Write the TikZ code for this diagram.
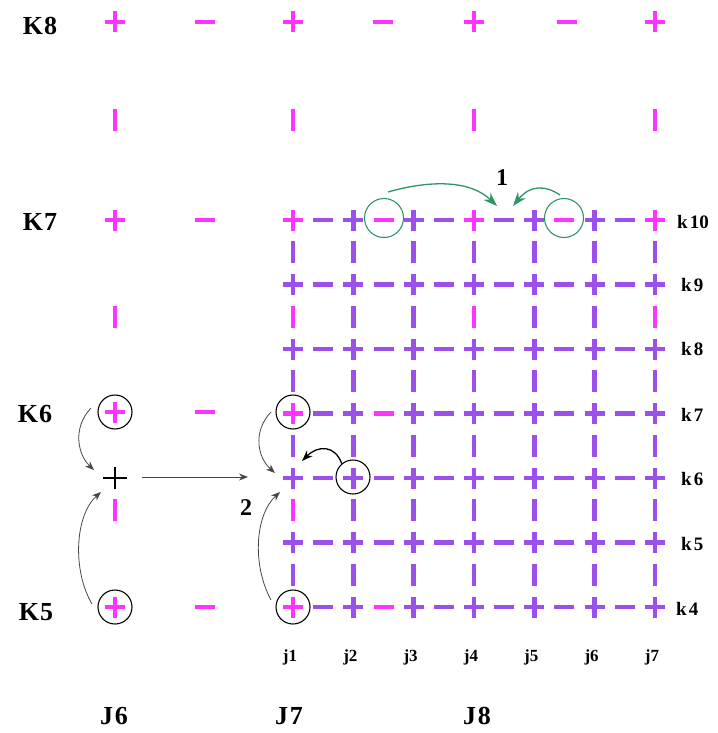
\documentclass[tikz,border=0pt]{standalone}
\usepackage{fontspec}
\setmainfont{Liberation Serif}
\usetikzlibrary{arrows.meta}
\definecolor{mag}{RGB}{255,51,255}
\definecolor{pur}{RGB}{155,80,235}
\definecolor{grn}{RGB}{46,150,100}
\definecolor{arr}{RGB}{70,70,70}
\tikzset{
  pluss/.pic={\draw (-10,0)--(10,0) (0,-10.5)--(0,10.5);},
  minuss/.pic={\draw (-10,0)--(10,0);},
  vbar/.pic={\draw (0,-11)--(0,11);},
  magsym/.style={color=mag, line width=4.8pt},
  pursym/.style={color=pur, line width=4.8pt},
  blkcirc/.style={circle, draw=black, line width=1.1pt, minimum size=34pt, inner sep=0pt},
  grncirc/.style={circle, draw=grn, line width=1.1pt, minimum size=39pt, inner sep=0pt},
  thinarr/.style={draw=arr, line width=0.8pt, -{Stealth[length=9pt,width=7pt]}},
  thickarr/.style={draw=black, line width=1.3pt, -{Stealth[length=11pt,width=8pt]}},
  grnarr/.style={draw=grn, line width=1.3pt, -{Stealth[length=14pt,width=10pt]}},
  bigK/.style={font=\fontsize{26}{28}\selectfont\bfseries, inner sep=0pt},
  smallk/.style={font=\fontsize{19}{21}\selectfont\bfseries, inner sep=0pt, anchor=west},
  smallj/.style={font=\fontsize{17}{20}\selectfont\bfseries, inner sep=0pt},
  numlab/.style={font=\fontsize{24}{26}\selectfont\bfseries, inner sep=0pt}
}
\begin{document}
\begin{tikzpicture}[x=1pt,y=-1pt]
\useasboundingbox (0,0) rectangle (717,733);
\def\xa{293}\def\dx{60.33}\def\ya{220}\def\dy{64.5}
% coarse grid (magenta) outside the fine grid
\foreach \x in {115,293,474,655} {\pic[magsym] at (\x,22) {pluss}; \pic[magsym] at (\x,120) {vbar};}
\foreach \x in {205,383,567} {\pic[magsym] at (\x,22) {minuss};}
\foreach \y in {220,412,607} {\pic[magsym] at (115,\y) {pluss}; \pic[magsym] at (205,\y) {minuss};}
\foreach \y in {317,510} {\pic[magsym] at (115,\y) {vbar};}
% fine grid (purple)
\foreach \i in {0,...,6} {
  \foreach \k in {0,...,6} {\pic[pursym] at ({\xa+\i*\dx},{\ya+\k*\dy}) {pluss};}
  \foreach \k in {0,...,5} {\pic[pursym] at ({\xa+\i*\dx},{\ya+(\k+0.5)*\dy}) {vbar};}
}
\foreach \i in {0,...,5} {
  \foreach \k in {0,...,6} {\pic[pursym] at ({\xa+(\i+0.5)*\dx},{\ya+\k*\dy}) {minuss};}
}
% magenta elements inside the fine grid
\foreach \i/\k in {0/0,3/0,6/0,0/3,0/6} {\pic[magsym] at ({\xa+\i*\dx},{\ya+\k*\dy}) {pluss};}
\foreach \i/\k in {1/0,4/0,1/3,1/6} {\pic[magsym] at ({\xa+(\i+0.5)*\dx},{\ya+\k*\dy}) {minuss};}
\foreach \i/\k in {0/1,3/1,6/1,0/4} {\pic[magsym] at ({\xa+\i*\dx},{\ya+(\k+0.5)*\dy}) {vbar};}
% black plus
\coordinate (bp) at (115,478);
\draw[black, line width=2.8pt] (103,478)--(127,478) (115,467)--(115,489);
% circles
\node[blkcirc] (cK6) at (115,412) {};
\node[blkcirc] (cK5) at (115,607) {};
\node[blkcirc] (cJ7K6) at (293,412) {};
\node[blkcirc] (cJ7K5) at (293,607) {};
\node[blkcirc] (cj2) at (353,477) {};
\node[grncirc] (g1) at (384,218) {};
\node[grncirc] (g2) at (564,218) {};
% arrow end coordinates
\coordinate (s1) at (91,408);
\coordinate (e1) at (94,470);
\coordinate (s2) at (92,604);
\coordinate (e2) at (101,492);
\coordinate (s3) at (142,477);
\coordinate (e3) at (248,477);
\coordinate (s4) at (271,412);
\coordinate (e4) at (275,473);
\coordinate (s5) at (271,600);
\coordinate (e5) at (280,492);
\coordinate (e6) at (302,461);
\coordinate (s7) at (388,192);
\coordinate (e7) at (497,206);
\coordinate (s8) at (560,195);
\coordinate (e8) at (513,206);
\draw[thinarr] (s1) .. controls (72,428) and (78,455) .. (e1);
\draw[thinarr] (s2) .. controls (72,570) and (75,515) .. (e2);
\draw[thinarr] (s3) -- (e3);
\draw[thinarr] (s4) .. controls (252,432) and (258,458) .. (e4);
\draw[thinarr] (s5) .. controls (252,565) and (255,515) .. (e5);
\draw[thickarr] (cj2.130) .. controls (335,445) and (318,445) .. (e6);
\draw[grnarr] (s7) .. controls (430,180) and (470,180) .. (e7);
\draw[grnarr] (s8) .. controls (545,185) and (530,185) .. (e8);
% labels
\node[numlab] (n1) at (502,178) {1};
\node[numlab] (n2) at (246,508) {2};
\node[bigK] (K8) at (40,26) {K\kern1pt 8};
\node[bigK] (K7) at (40,222) {K\kern1pt 7};
\node[bigK] (K6) at (35,414) {K\kern1pt 6};
\node[bigK] (K5) at (36,612) {K\kern1pt 5};
\node[bigK] (J6) at (114,716) {J\kern2pt 6};
\node[bigK] (J7) at (289,716) {J\kern2pt 7};
\node[bigK] (J8) at (477,716) {J\kern2pt 8};
\node[smallk] (k10) at (677,222) {k\kern2pt 10};
\node[smallk] (k9) at (681,285) {k\kern2pt 9};
\node[smallk] (k8) at (681,349) {k\kern2pt 8};
\node[smallk] (k7) at (681,415) {k\kern2pt 7};
\node[smallk] (k6) at (681,479) {k\kern2pt 6};
\node[smallk] (k5) at (681,544) {k\kern2pt 5};
\node[smallk] (k4) at (676,609) {k\kern2pt 4};
\foreach \i/\t in {0/j1,1/j2,2/j3,3/j4,4/j5,5/j6,6/j7} {\node[smallj] (\t) at ({\xa+\i*\dx-3},657) {\t};}
\end{tikzpicture}
\end{document}
